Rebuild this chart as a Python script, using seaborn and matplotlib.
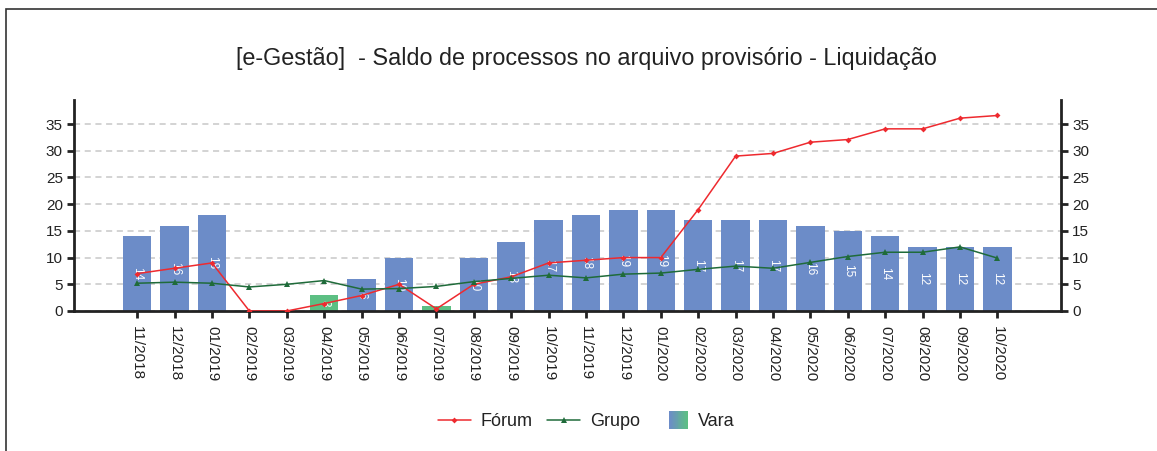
import matplotlib
matplotlib.use("Agg")
import matplotlib.pyplot as plt
import seaborn as sns
import numpy as np
from matplotlib.lines import Line2D
from matplotlib.patches import Rectangle, Patch
from matplotlib.legend_handler import HandlerBase
from matplotlib.colors import to_rgb

# ----------------------------------------
# Dados do gráfico
# ----------------------------------------
meses = [
    "11/2018", "12/2018", "01/2019", "02/2019", "03/2019", "04/2019",
    "05/2019", "06/2019", "07/2019", "08/2019", "09/2019", "10/2019",
    "11/2019", "12/2019", "01/2020", "02/2020", "03/2020", "04/2020",
    "05/2020", "06/2020", "07/2020", "08/2020", "09/2020", "10/2020",
]
vara = [14, 16, 18, 0, 0, 3, 6, 10, 1, 10, 13, 17,
        18, 19, 19, 17, 17, 17, 16, 15, 14, 12, 12, 12]
forum = [7, 8, 9, 0, 0, 1.4, 2.9, 5, 0.4, 5, 6.4, 9,
         9.5, 10, 10, 19, 29, 29.5, 31.6, 32.1, 34.1, 34.1, 36.1, 36.6]
grupo = [5.2, 5.4, 5.2, 4.5, 5.0, 5.7, 4.1, 4.2, 4.6, 5.5, 6.1, 6.7,
         6.2, 6.9, 7.1, 7.8, 8.4, 8.0, 9.1, 10.2, 11.0, 11.0, 12.0, 9.9]
# meses em que a barra da Vara aparece em verde
destaque = ["04/2019", "07/2019"]
yticks = [0, 5, 10, 15, 20, 25, 30, 35]

titulo = "[e-Gestão]  - Saldo de processos no arquivo provisório - Liquidação"

AZUL = "#6C8CC8"
VERDE = "#5CBF83"
VERMELHO = "#EE2A2F"
VERDE_ESCURO = "#1F6B3A"


class HandlerGradiente(HandlerBase):
    """Desenha a amostra da legenda com um degradê azul -> verde."""

    def create_artists(self, legend, orig_handle, xdescent, ydescent,
                       width, height, fontsize, trans):
        lado = height * 1.45
        x0 = -xdescent + width - lado
        y0 = -ydescent - (lado - height) / 2
        c1, c2 = np.array(to_rgb(AZUL)), np.array(to_rgb(VERDE))
        n = 20
        artistas = []
        for i in range(n):
            cor = c1 + (c2 - c1) * i / (n - 1)
            r = Rectangle((x0 + lado * i / n, y0), lado / n * 1.05, lado,
                          facecolor=cor, edgecolor="none", transform=trans)
            artistas.append(r)
        return artistas


sns.set_style("white")
plt.rcParams["font.family"] = ["Liberation Sans", "DejaVu Sans"]

fig = plt.figure(figsize=(11.57, 4.51), dpi=100)
ax = fig.add_axes([74 / 1157, 1 - 311 / 451, (1061 - 74) / 1157, (311 - 100) / 451])

x = np.arange(len(meses))
cores = ["destaque" if m in destaque else "normal" for m in meses]

# Barras da Vara
sns.barplot(x=meses, y=vara, hue=cores, palette={"normal": AZUL, "destaque": VERDE},
            dodge=False, width=0.76, legend=False, ax=ax, zorder=2,
            saturation=1, linewidth=0)

# Rótulos das barras (centralizados, girados)
for i, v in enumerate(vara):
    if v >= 2:
        ax.text(i, v / 2, str(v), rotation=270, color="white", fontsize=8.5,
                ha="center", va="center", zorder=3)

# Linhas Fórum e Grupo
sns.lineplot(x=x, y=forum, color=VERMELHO, linewidth=1.1, marker="D",
             markersize=3, markeredgewidth=0, sort=False, ax=ax, zorder=4)
sns.lineplot(x=x, y=grupo, color=VERDE_ESCURO, linewidth=1.1, marker="^",
             markersize=4.5, markeredgewidth=0, sort=False, ax=ax, zorder=4)

ax.set_xlim(-1.69, 24.70)
ax.set_ylim(0, 39.5)
ax.set_yticks(yticks)
ax.set_xticks(x)
ax.set_xticklabels(meses, rotation=270)

# Grade tracejada
ax.yaxis.grid(True, linestyle=(0, (4, 3)), color="#C8C8C8", linewidth=1.1, zorder=0)
ax.xaxis.grid(False)
ax.set_axisbelow(True)

for lado in ["left", "right", "bottom"]:
    ax.spines[lado].set_visible(True)
    ax.spines[lado].set_color("#222222")
    ax.spines[lado].set_linewidth(2.0)
ax.spines["top"].set_visible(False)

ax.tick_params(axis="both", which="major", direction="out", length=5, width=2,
               color="#222222", labelsize=11, labelcolor="#222222", pad=3)
ax.tick_params(axis="y", left=True, right=True, labelleft=True, labelright=True)
ax.tick_params(axis="x", bottom=True, pad=6)
ax.set_xlabel("")
ax.set_ylabel("")

# Título
fig.text(586 / 1157, 1 - 58 / 451, titulo, ha="center", va="center",
         fontsize=16.8, color="#222222")

# Legenda
handles = [
    Line2D([], [], color=VERMELHO, linewidth=1.1, marker="D", markersize=3,
           markeredgewidth=0),
    Line2D([], [], color=VERDE_ESCURO, linewidth=1.1, marker="^", markersize=4.5,
           markeredgewidth=0),
    Patch(facecolor=AZUL),
]
fig.legend(handles, ["Fórum", "Grupo", "Vara"], loc="center",
           bbox_to_anchor=(586 / 1157, 1 - 422 / 451), ncol=3, frameon=False,
           fontsize=13, handlelength=1.83, handletextpad=0.55, columnspacing=0.8,
           handler_map={Patch: HandlerGradiente()}, labelcolor="#222222")

# Moldura externa
fig.patches.append(Rectangle((6 / 1157, -0.1), 1.2, 1 - 9 / 451 + 0.1,
                             transform=fig.transFigure, fill=False,
                             edgecolor="#333333", linewidth=1.2))

plt.savefig("out.png", dpi=100)
